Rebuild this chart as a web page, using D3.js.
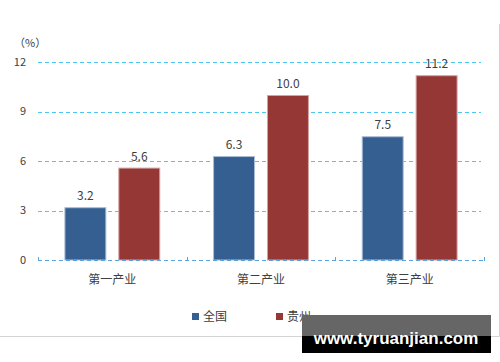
<!DOCTYPE html>
<html>
<head>
<meta charset="utf-8">
<script src="https://cdn.jsdelivr.net/npm/d3@7"></script>
<style>
  html, body { margin: 0; padding: 0; background: #fff; }
  svg { display: block; font-family: "Noto Sans CJK SC", "DejaVu Sans", sans-serif; }
</style>
</head>
<body>
<script>
var categories = ["第一产业", "第二产业", "第三产业"],
	seriesNames = ["全国", "贵州"],
	national = [3.2, 6.3, 7.5],
	guizhou = [5.6, 10.0, 11.2],
	yTicks = [0, 3, 6, 9, 12],
	colors = ["#355f91", "#953735"],
	strokes = ["#a9bcd6", "#d3a3a2"];

var w = 500, h = 362;

var svg = d3.select("body")
	.append("svg")
	.attr("width", w)
	.attr("height", h);

// frame (right + bottom edges visible)
svg.append("path")
	.attr("d", "M499.5,24 V336.5 H0")
	.attr("fill", "none")
	.attr("stroke", "#d4d4d4")
	.attr("stroke-width", 1);

var x0 = d3.scaleBand()
	.domain(categories)
	.range([38, 484])
	.padding(0);

var x1 = d3.scaleBand()
	.domain(seriesNames)
	.range([0, x0.bandwidth()])
	.paddingInner(0.222)
	.paddingOuter(0.49);

var y = d3.scaleLinear()
	.domain([0, 12])
	.range([260, 62]);

// gridlines
svg.append("g")
	.selectAll("line")
	.data(yTicks.filter(function (d) { return d > 0; }))
	.enter()
	.append("line")
	.attr("x1", 38)
	.attr("x2", 481)
	.attr("y1", function (d) { return Math.round(y(d)) + 0.5; })
	.attr("y2", function (d) { return Math.round(y(d)) + 0.5; })
	.attr("stroke", "#4cc6f2")
	.attr("stroke-dasharray", "4,3");

// y tick labels
svg.append("g")
	.selectAll("text")
	.data(yTicks)
	.enter()
	.append("text")
	.attr("x", 26)
	.attr("y", function (d) { return y(d); })
	.attr("dy", "0.35em")
	.attr("text-anchor", "end")
	.attr("font-size", 11)
	.attr("fill", "#404040")
	.text(function (d) { return d; });

svg.append("text")
	.attr("x", 14)
	.attr("y", 47)
	.attr("font-size", 11)
	.attr("fill", "#404040")
	.text("（%）");

// bars
var rows = categories.map(function (c, i) {
	return { cat: c, vals: [national[i], guizhou[i]] };
});

var groups = svg.selectAll("g.grp")
	.data(rows)
	.enter()
	.append("g")
	.attr("class", "grp")
	.attr("transform", function (d) { return "translate(" + x0(d.cat) + ",0)"; });

groups.selectAll("rect")
	.data(function (d) { return d.vals.map(function (v, i) { return { s: seriesNames[i], v: v, i: i }; }); })
	.enter()
	.append("rect")
	.attr("x", function (d) { return x1(d.s) + 0.5; })
	.attr("y", function (d) { return y(d.v) + 0.5; })
	.attr("width", x1.bandwidth() - 1)
	.attr("height", function (d) { return y(0) - y(d.v) - 0.5; })
	.attr("fill", function (d) { return colors[d.i]; })
	.attr("stroke", function (d) { return strokes[d.i]; })
	.attr("stroke-width", 1);

groups.selectAll("text")
	.data(function (d) { return d.vals.map(function (v, i) { return { s: seriesNames[i], v: v }; }); })
	.enter()
	.append("text")
	.attr("x", function (d) { return x1(d.s) + x1.bandwidth() / 2; })
	.attr("y", function (d) { return y(d.v) - 7; })
	.attr("text-anchor", "middle")
	.attr("font-size", 12)
	.attr("fill", "#404040")
	.text(function (d) { return d.v.toFixed(1); });

// x axis baseline
svg.append("line")
	.attr("x1", 38)
	.attr("x2", 484)
	.attr("y1", 260.5)
	.attr("y2", 260.5)
	.attr("stroke", "#5ba3dc")
	.attr("stroke-dasharray", "4,3");

svg.append("g")
	.selectAll("line")
	.data([38, 484].concat(categories.slice(1).map(function (c) { return x0(c); })))
	.enter()
	.append("line")
	.attr("x1", function (d) { return Math.round(d) + 0.5; })
	.attr("x2", function (d) { return Math.round(d) + 0.5; })
	.attr("y1", 257)
	.attr("y2", 261)
	.attr("stroke", "#5ba3dc");

svg.append("g")
	.selectAll("text")
	.data(categories)
	.enter()
	.append("text")
	.attr("x", function (d) { return x0(d) + x0.bandwidth() / 2; })
	.attr("y", 284)
	.attr("text-anchor", "middle")
	.attr("font-size", 12)
	.attr("fill", "#404040")
	.text(function (d) { return d; });

// legend
var legend = svg.selectAll("g.leg")
	.data(seriesNames)
	.enter()
	.append("g")
	.attr("class", "leg")
	.attr("transform", function (d, i) { return "translate(" + (192 + i * 84) + ",313)"; });

legend.append("rect")
	.attr("width", 7)
	.attr("height", 7)
	.attr("fill", function (d, i) { return colors[i]; });

legend.append("text")
	.attr("x", 11)
	.attr("y", 4)
	.attr("dy", "0.35em")
	.attr("font-size", 12)
	.attr("fill", "#404040")
	.text(function (d) { return d; });

// watermark
svg.append("rect")
	.attr("x", 302).attr("y", 315).attr("width", 189).attr("height", 21)
	.attr("fill", "#666");
svg.append("rect")
	.attr("x", 302).attr("y", 336).attr("width", 189).attr("height", 17)
	.attr("fill", "#000");
svg.append("text")
	.attr("x", 396)
	.attr("y", 344)
	.attr("text-anchor", "middle")
	.attr("font-family", "Liberation Sans, Arial, sans-serif")
	.attr("font-weight", "bold")
	.attr("font-size", 17)
	.attr("fill", "#fff")
	.text("www.tyruanjian.com");
</script>
</body>
</html>
